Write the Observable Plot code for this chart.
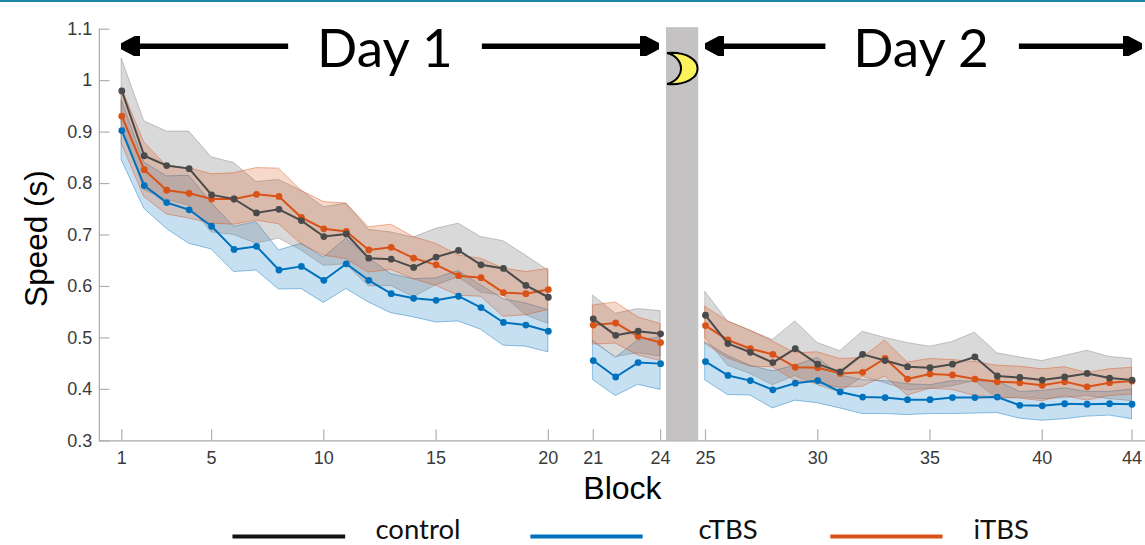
<!DOCTYPE html>
<html>
<head>
<meta charset="utf-8">
<script src="https://cdn.jsdelivr.net/npm/d3@7"></script>
<script src="https://cdn.jsdelivr.net/npm/@observablehq/plot@0.6"></script>
<style>
html,body{margin:0;padding:0;background:#fff;}
#strip{position:absolute;left:0;top:0;width:1145px;height:2px;background:#1c88a8;}
svg{display:block;}
</style>
</head>
<body>
<div id="strip"></div>
<div id="chart"></div>
<script>
const controlMean=[.98,.854,.835,.829,.778,.77,.743,.75,.728,.697,.702,.655,.653,.637,.657,.67,.642,.635,.602,.579,.537,.505,.513,.508,.544,.489,.472,.452,.479,.449,.434,.468,.456,.444,.442,.449,.463,.426,.423,.418,.424,.431,.422,.418];
const controlUpper=[1.042,.921,.901,.901,.851,.84,.803,.807,.786,.754,.761,.71,.705,.695,.712,.722,.696,.688,.66,.631,.582,.547,.556,.552,.589,.532,.514,.496,.532,.49,.474,.512,.5,.49,.483,.492,.51,.47,.462,.455,.465,.475,.463,.459];
const controlLower=[.918,.787,.769,.757,.705,.7,.683,.693,.67,.64,.643,.6,.601,.579,.602,.618,.588,.582,.544,.527,.492,.463,.47,.464,.499,.446,.43,.408,.426,.408,.394,.424,.412,.398,.401,.406,.416,.382,.384,.381,.383,.387,.381,.377];
const ctbsMean=[.903,.796,.763,.749,.717,.672,.678,.632,.639,.612,.644,.612,.586,.577,.573,.581,.559,.53,.525,.513,.456,.424,.452,.45,.454,.427,.417,.399,.412,.417,.395,.385,.384,.38,.38,.384,.384,.385,.369,.368,.372,.371,.372,.371];
const ctbsUpper=[.961,.841,.814,.815,.762,.716,.725,.67,.683,.656,.693,.655,.624,.614,.616,.63,.602,.575,.567,.554,.494,.461,.495,.501,.491,.465,.446,.435,.446,.461,.427,.418,.416,.41,.408,.416,.415,.416,.395,.397,.402,.395,.395,.4];
const ctbsLower=[.845,.751,.712,.683,.672,.628,.631,.594,.595,.568,.595,.569,.548,.54,.53,.532,.516,.485,.483,.472,.418,.387,.409,.399,.417,.389,.388,.363,.378,.373,.363,.352,.352,.35,.352,.352,.353,.354,.343,.339,.342,.347,.349,.342];
const itbsMean=[.931,.827,.787,.781,.77,.77,.779,.775,.734,.712,.707,.671,.676,.655,.642,.621,.617,.588,.586,.594,.525,.529,.503,.491,.524,.496,.479,.468,.443,.442,.431,.433,.46,.42,.43,.428,.42,.415,.413,.408,.415,.405,.413,.416];
const itbsUpper=[.985,.88,.834,.83,.818,.82,.83,.829,.786,.764,.761,.715,.72,.696,.683,.66,.654,.635,.628,.634,.563,.569,.54,.527,.56,.532,.514,.493,.47,.472,.459,.461,.495,.452,.459,.457,.453,.446,.444,.439,.443,.432,.439,.442];
const itbsLower=[.877,.774,.74,.732,.722,.72,.728,.721,.682,.66,.653,.627,.632,.614,.601,.582,.58,.541,.544,.554,.487,.489,.466,.455,.488,.46,.444,.443,.416,.412,.403,.405,.425,.388,.401,.399,.387,.384,.382,.377,.387,.378,.387,.39];

const blockTicks=[1,5,10,15,20,21,24,25,30,35,40,44];
const speedTicks=[.3,.4,.5,.6,.7,.8,.9,1,1.1];
const seriesNames=["cTBS","control","iTBS"];
const seriesColors={control:"#4a4a4a",cTBS:"#0072bd",iTBS:"#d95319"};
const bandColors={control:"#808080",cTBS:"#0072bd",iTBS:"#d95319"};
const legendNames=["control","cTBS","iTBS"];
const legendLineColors=["#111111","#0072bd","#d95319"];
const legendStart=[5.93,19.2,32.56];
const legendEnd=[10.95,24.2,37.56];
const legendTextX=[12.3,26.69,38.94];

const dayLabels=["Day 1","Day 2"];
const dayLabelX=[12.72,36.6];
const arrowFrom=[8.41,17.04,32.34,40.96];
const arrowTo=[1.8,24.11,27.82,45.6];
const nightStart=25.26, nightEnd=26.7;

// Blocks keep a gap of one unit after each session break.
const pos=b=>b+(b>20?1:0)+(b>24?1:0);
const seg=b=>b<=20?"a":b<=24?"b":"c";
const sets={control:[controlMean,controlUpper,controlLower],cTBS:[ctbsMean,ctbsUpper,ctbsLower],iTBS:[itbsMean,itbsUpper,itbsLower]};
const rowsFor=n=>sets[n][0].map((m,i)=>({pos:pos(i+1),seg:seg(i+1),mean:m,high:sets[n][1][i],low:sets[n][2][i]}));

const head=(color,context)=>{
  const ns="http://www.w3.org/2000/svg";
  const m=context.document.createElementNS(ns,"marker");
  m.setAttribute("viewBox","0 -10 19 20");
  m.setAttribute("markerUnits","userSpaceOnUse");
  m.setAttribute("markerWidth",19);
  m.setAttribute("markerHeight",20);
  m.setAttribute("refX",0.5);
  m.setAttribute("refY",0);
  m.setAttribute("orient","auto");
  const p=context.document.createElementNS(ns,"path");
  p.setAttribute("d","M0,-10L19,0L0,10Z");
  p.setAttribute("fill",color);
  m.appendChild(p);
  return m;
};
const crescent={draw(c){
  c.moveTo(-15.5,-15.5);
  c.bezierCurveTo(5,-17,15,-8,15,0);
  c.bezierCurveTo(15,9,4,17,-15.5,15.5);
  c.bezierCurveTo(-5,13,-1.5,5,-1.5,0);
  c.bezierCurveTo(-1.5,-6,-6,-13,-15.5,-15.5);
  c.closePath();
}};

const tickFont="Liberation Sans, Arial, sans-serif";
const handFont="Lato, Open Sans, sans-serif";
const arrowY=1.067;

const marks=[
  Plot.rect([0],{x1:nightStart,x2:nightEnd,y1:.3,y2:1.103,fill:"#c4c2c3"}),
  Plot.ruleY([.3],{stroke:"#a8a8a8",strokeWidth:1.2}),
  Plot.ruleX([0],{stroke:"#a8a8a8",strokeWidth:1.2,y1:.3,y2:1.1}),
  Plot.ruleX(blockTicks,{x:pos,y1:.3,y2:.3214,stroke:"#b0b0b0",strokeWidth:1.2}),
  Plot.ruleY(speedTicks,{y:d=>d,x1:0,x2:.47,stroke:"#b0b0b0",strokeWidth:1.2}),
  Plot.axisX(blockTicks.map(pos),{anchor:"bottom",tickSize:0,tickPadding:10,label:null,
    tickFormat:p=>String(blockTicks[blockTicks.map(pos).indexOf(p)]),fontSize:18,fontFamily:tickFont,fill:"#3a3a3a"}),
  Plot.axisY(speedTicks,{anchor:"left",tickSize:0,tickPadding:7,label:null,tickFormat:d=>String(d),
    fontSize:18,fontFamily:tickFont,fill:"#3a3a3a"})
];
for(const n of seriesNames){
  marks.push(Plot.areaY(rowsFor(n),{x:"pos",y1:"low",y2:"high",z:"seg",fill:bandColors[n],
    fillOpacity:n==="control"?.3:.22,stroke:bandColors[n],strokeOpacity:.55,strokeWidth:.8}));
}
for(const n of ["cTBS","iTBS","control"]){
  const r=rowsFor(n);
  marks.push(Plot.line(r,{x:"pos",y:"mean",z:"seg",stroke:seriesColors[n],strokeWidth:2}));
  marks.push(Plot.dot(r,{x:"pos",y:"mean",r:3.4,fill:seriesColors[n],stroke:"none"}));
}
marks.push(
  Plot.link(arrowFrom.map((a,i)=>i),{x1:i=>arrowFrom[i],x2:i=>arrowTo[i],y1:arrowY,y2:arrowY,stroke:"#000",strokeWidth:5.5,markerEnd:head}),
  Plot.dot([0],{x:(nightStart+nightEnd)/2,y:.3+(440.3-68)/514.5,symbol:crescent,fill:"#fbf35c",stroke:"#000",strokeWidth:2}),
  Plot.text(dayLabels,{x:(d,i)=>dayLabelX[i],y:1.059,text:d=>d,fontSize:53,fontFamily:handFont,fill:"#000",textAnchor:"middle"}),
  Plot.text(["Speed (s)"],{x:-2.8,y:.693,text:d=>d,rotate:-90,fontSize:31.5,fontFamily:tickFont,fill:"#000"}),
  Plot.text(["Block"],{x:23.3,y:.207,text:d=>d,fontSize:32,fontFamily:tickFont,fill:"#000"}),
  Plot.link(legendNames,{x1:(d,i)=>legendStart[i],x2:(d,i)=>legendEnd[i],y1:.114,y2:.114,stroke:(d,i)=>legendLineColors[i],strokeWidth:4}),
  Plot.text(legendNames,{x:(d,i)=>legendTextX[i],y:.127,text:d=>d,textAnchor:"start",fontSize:27.5,fontFamily:handFont,fill:"#111"})
);

const fig=Plot.plot({
  width:1145,height:545,
  marginLeft:98.85,marginRight:0,marginTop:28.7,marginBottom:104.7,
  style:{background:"#fff",overflow:"visible"},
  x:{domain:[0,46.6],axis:null},
  y:{domain:[.3,1.1],axis:null},
  marks
});
document.getElementById("chart").appendChild(fig);
</script>
</body>
</html>
